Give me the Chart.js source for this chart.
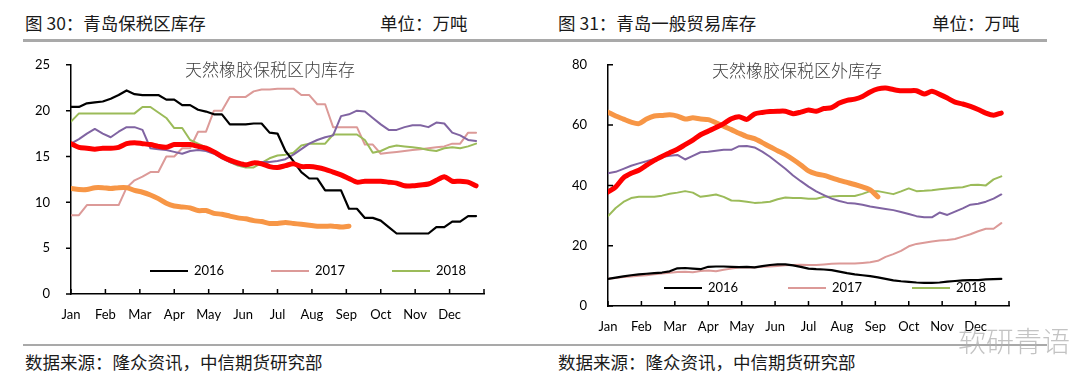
<!DOCTYPE html>
<html>
<head>
<meta charset="utf-8">
<script src="https://cdn.jsdelivr.net/npm/chart.js@4.4.0/dist/chart.umd.min.js"></script>
<style>
  html, body { margin: 0; padding: 0; background: #fff; }
  body { width: 1080px; height: 382px; position: relative; overflow: hidden;
         font-family: "Noto Sans CJK SC", sans-serif; }
  .t { position: absolute; font-size: 17.5px; color: #1a1a1a; white-space: nowrap; line-height: 1; }
  .note { position: absolute; font-size: 17px; color: #3c3c3c; white-space: nowrap; line-height: 1; font-weight: 300; }
  .rule { position: absolute; background: #a9a9a9; }
  .box { position: absolute; }
  .mark { position: absolute; font-size: 28px; color: rgba(175,175,175,0.75); white-space: nowrap; line-height: 1; font-weight: 300; }
</style>
</head>
<body>

<div class="t" style="left:25px;top:14px;">图 30：青岛保税区库存</div>
<div class="t" style="left:380px;top:14px;">单位：万吨</div>
<div class="t" style="left:558px;top:14px;">图 31：青岛一般贸易库存</div>
<div class="t" style="left:932px;top:14px;">单位：万吨</div>
<div class="rule" style="left:23px;top:39px;width:1024px;height:3px;"></div>

<div class="box" style="left:0;top:44px;width:520px;height:300px;"><canvas id="bonded"></canvas></div>
<div class="box" style="left:540px;top:44px;width:520px;height:300px;"><canvas id="trade"></canvas></div>

<div class="note" style="left:185px;top:60px;">天然橡胶保税区内库存</div>
<div class="note" style="left:712px;top:61px;">天然橡胶保税区外库存</div>

<div class="rule" style="left:23px;top:344px;width:1024px;height:2px;"></div>
<div class="t" style="left:25px;top:353px;">数据来源：隆众资讯，中信期货研究部</div>
<div class="t" style="left:558px;top:353px;">数据来源：隆众资讯，中信期货研究部</div>
<div class="mark" style="left:958px;top:326px;">软研青语</div>

<script>
// ========================
// DATA (weekly, 52 points per year)
// ========================

const monthLabels = ["Jan", "Feb", "Mar", "Apr", "May", "Jun", "Jul", "Aug", "Sep", "Oct", "Nov", "Dec", ""];
const legendYears = ["2016", "2017", "2018"];

// 青岛保税区库存 (万吨)
const bondedRed = [16.4, 16.0, 15.9, 15.8, 15.9, 15.9, 16.0, 16.4, 16.5, 16.4, 16.3, 16.1, 16.0, 16.3, 16.3, 16.3,
  16.1, 15.9, 15.5, 15.0, 14.6, 14.3, 14.1, 14.3, 14.2, 13.9, 13.8, 14.0, 14.2, 13.9, 13.9, 13.8, 13.6, 13.3,
  13.0, 12.6, 12.2, 12.3, 12.3, 12.3, 12.2, 12.1, 11.8, 11.8, 11.9, 12.0, 12.4, 12.8, 12.3, 12.3, 12.2, 11.8];
const bondedOrange = [11.5, 11.4, 11.4, 11.6, 11.6, 11.5, 11.6, 11.6, 11.3, 11.1, 10.8, 10.4, 9.9, 9.6, 9.5, 9.4,
  9.1, 9.1, 8.8, 8.7, 8.5, 8.3, 8.2, 8.0, 7.9, 7.7, 7.7, 7.8, 7.7, 7.6, 7.5, 7.4, 7.4, 7.4, 7.3, 7.4];
const bondedBlack = [20.4, 20.4, 20.8, 20.9, 21.0, 21.3, 21.7, 22.2, 21.8, 21.7, 21.7, 21.7, 21.2, 21.2, 20.6, 20.6,
  20.1, 19.9, 19.6, 19.6, 18.5, 18.5, 18.5, 18.6, 18.6, 17.6, 17.5, 15.6, 14.5, 13.3, 12.6, 12.6, 11.3, 11.3,
  11.3, 9.3, 9.3, 8.3, 8.3, 8.0, 7.3, 6.6, 6.6, 6.6, 6.6, 6.6, 7.3, 7.3, 7.9, 7.9, 8.5, 8.5];
const bondedPurple = [16.4, 16.9, 17.5, 18.0, 17.5, 17.1, 17.7, 18.2, 18.2, 17.9, 15.9, 15.8, 15.7, 15.5, 15.3, 15.6,
  15.7, 15.6, 15.3, 14.8, 14.4, 14.1, 13.9, 14.2, 14.4, 14.4, 14.5, 14.7, 15.2, 15.8, 16.4, 16.8, 17.1, 17.3,
  19.4, 19.6, 20.0, 19.9, 19.2, 18.5, 17.9, 17.9, 18.2, 18.4, 18.4, 18.2, 18.7, 18.6, 17.6, 17.3, 16.8, 16.7];
const bondedGreen = [18.8, 19.7, 19.7, 19.7, 19.7, 19.7, 19.7, 19.7, 19.7, 20.4, 20.4, 19.8, 19.2, 18.1, 18.1, 16.8,
  16.4, 16.0, 15.5, 15.0, 14.4, 14.0, 13.8, 13.8, 14.3, 14.8, 15.1, 15.2, 15.4, 16.2, 16.4, 16.4, 16.4, 17.4,
  17.4, 17.4, 17.4, 16.8, 15.4, 15.6, 16.0, 16.2, 16.1, 16.0, 15.9, 15.7, 15.6, 15.9, 16.0, 15.9, 16.1, 16.4];
const bondedPink = [8.6, 8.6, 9.7, 9.7, 9.7, 9.7, 9.7, 11.6, 12.4, 12.8, 13.3, 13.3, 15.0, 15.0, 15.9, 15.9,
  17.7, 17.7, 20.0, 20.0, 21.5, 21.5, 21.5, 22.1, 22.3, 22.3, 22.4, 22.4, 22.4, 21.7, 21.7, 20.7, 20.7, 18.2,
  18.2, 18.2, 18.2, 16.3, 16.3, 15.3, 15.4, 15.5, 15.6, 15.7, 15.8, 15.9, 16.0, 16.1, 16.4, 16.4, 17.6, 17.6];

// 青岛一般贸易库存 (万吨)
const tradeRed = [37.8, 39.5, 42.5, 44.0, 45.0, 46.7, 48.3, 49.6, 50.8, 52.0, 53.5, 55.0, 56.8, 58.0, 59.2, 60.5,
  62.1, 62.8, 61.9, 63.7, 64.2, 64.5, 64.6, 64.6, 63.8, 64.3, 65.0, 64.6, 65.5, 65.8, 67.3, 68.2, 68.6, 69.5,
  71.0, 72.0, 72.3, 71.8, 71.4, 71.4, 71.4, 70.3, 71.2, 70.2, 69.0, 67.6, 67.0, 66.2, 65.2, 64.0, 63.3, 64.0];
const tradeOrange = [64.3, 63.0, 62.0, 61.0, 60.5, 62.0, 63.0, 63.2, 63.4, 63.0, 62.0, 62.4, 62.0, 61.8, 60.8, 59.6,
  58.5, 57.3, 56.2, 55.5, 54.2, 52.8, 51.5, 50.2, 48.6, 46.8, 44.8, 43.8, 43.3, 42.5, 41.7, 41.0, 40.3, 39.5,
  38.5, 36.2];
const tradeBlack = [9.0, 9.4, 9.8, 10.2, 10.5, 10.7, 10.9, 11.1, 11.5, 12.5, 12.6, 12.4, 12.2, 13.0, 13.1, 13.1,
  13.0, 12.9, 13.0, 12.8, 13.2, 13.6, 13.8, 13.8, 13.5, 13.0, 12.4, 12.2, 12.1, 11.9, 11.4, 10.9, 10.5, 10.2,
  9.9, 9.5, 9.0, 8.5, 8.2, 8.0, 7.8, 7.7, 7.7, 7.8, 8.1, 8.3, 8.5, 8.6, 8.6, 8.8, 8.9, 9.0];
const tradePurple = [44.0, 44.5, 45.5, 46.5, 47.3, 48.0, 48.8, 49.4, 49.8, 50.1, 48.6, 49.8, 51.0, 51.2, 51.5, 51.8,
  51.8, 53.0, 53.1, 52.6, 51.2, 49.5, 47.5, 45.5, 43.3, 41.4, 39.6, 38.0, 36.8, 35.6, 34.8, 34.2, 34.0, 33.6,
  33.0, 32.6, 32.2, 31.8, 31.2, 30.5, 29.8, 29.4, 29.4, 31.0, 30.2, 31.3, 32.4, 33.6, 33.9, 34.6, 35.6, 37.0];
const tradeGreen = [29.8, 32.5, 34.5, 35.8, 36.2, 36.2, 36.2, 36.6, 37.2, 37.6, 38.1, 37.6, 36.2, 36.6, 37.0, 36.2,
  35.0, 34.9, 34.6, 34.2, 34.3, 34.6, 35.4, 36.0, 35.8, 35.8, 35.6, 35.6, 36.2, 36.3, 36.5, 36.5, 36.5, 37.2,
  38.1, 38.1, 37.6, 37.1, 38.0, 39.0, 38.1, 38.2, 38.4, 38.7, 39.0, 39.2, 39.4, 40.1, 40.2, 40.0, 42.0, 43.0];
const tradePink = [9.0, 9.3, 9.6, 9.8, 10.0, 10.2, 10.5, 10.8, 11.0, 11.3, 11.4, 11.2, 11.6, 11.8, 11.5, 12.0,
  12.4, 12.8, 12.8, 12.8, 13.0, 13.1, 13.3, 13.5, 13.6, 13.7, 13.6, 13.6, 13.8, 14.0, 14.1, 14.1, 14.1, 14.3,
  14.5, 15.0, 16.3, 17.2, 18.3, 19.8, 20.6, 21.0, 21.4, 21.7, 21.9, 22.2, 23.0, 23.8, 24.8, 25.6, 25.6, 27.5];

// ========================
// CHART HELPERS
// ========================

const WEEKS_PER_YEAR = 52;
const FONT = "Lato, 'Liberation Sans', sans-serif";

function toPoints(values) {
  return values.map((v, i) => ({ x: i, y: v }));
}

function line(label, values, color, width) {
  return {
    label,
    data: toPoints(values),
    borderColor: color,
    backgroundColor: color,
    borderWidth: width,
    pointRadius: 0,
    tension: width > 3 ? 0.25 : 0,
    borderJoinStyle: 'round',
    borderCapStyle: 'round',
    fill: false
  };
}

// small tick marks on both axes (x marks point into the plot)
const axisTicks = {
  id: 'axisTicks',
  afterDraw(chart, args, opts) {
    const { ctx } = chart;
    const xs = chart.scales.x, ys = chart.scales.y;
    ctx.save();
    ctx.strokeStyle = '#000';
    ctx.lineWidth = 1.5;
    ctx.beginPath();
    xs.ticks.forEach(t => {
      const px = xs.getPixelForValue(t.value);
      ctx.moveTo(px, xs.top);
      ctx.lineTo(px, xs.top - 5);
    });
    ys.ticks.forEach(t => {
      const py = ys.getPixelForValue(t.value);
      ctx.moveTo(ys.right, py);
      ctx.lineTo(ys.right + opts.yDir * 5, py);
    });
    ctx.stroke();
    ctx.restore();
  }
};

// legend drawn inside the plot, only for the listed years
const lineLegend = {
  id: 'lineLegend',
  afterDraw(chart, args, opts) {
    const { ctx, chartArea } = chart;
    const y = chartArea.bottom - opts.dy;
    ctx.save();
    ctx.font = '13px ' + FONT;
    ctx.textBaseline = 'middle';
    opts.items.forEach((label, i) => {
      const ds = chart.data.datasets.find(d => d.label === label);
      const x0 = chartArea.left + opts.dx + i * opts.step;
      ctx.strokeStyle = ds.borderColor;
      ctx.lineWidth = ds.borderWidth;
      ctx.beginPath();
      ctx.moveTo(x0, y);
      ctx.lineTo(x0 + 38, y);
      ctx.stroke();
      ctx.fillStyle = '#000';
      ctx.fillText(label, x0 + 44, y);
    });
    ctx.restore();
  }
};

function makeChart(id, datasets, yMax, yStep, cfg) {
  return new Chart(document.getElementById(id), {
    type: 'line',
    data: { datasets },
    options: {
      responsive: true,
      maintainAspectRatio: false,
      animation: false,
      layout: { padding: cfg.padding },
      plugins: {
        legend: { display: false },
        tooltip: { enabled: false },
        axisTicks: { yDir: cfg.yDir },
        lineLegend: cfg.legend
      },
      scales: {
        x: {
          type: 'linear',
          min: 0,
          max: WEEKS_PER_YEAR,
          afterBuildTicks: scale => {
            scale.ticks = monthLabels.map((m, i) => ({ value: i * WEEKS_PER_YEAR / 12 }));
          },
          afterFit: scale => { scale.height = 34; },
          grid: { display: false },
          border: { display: true, color: '#000', width: 1.5 },
          ticks: {
            autoSkip: false,
            maxRotation: 0,
            padding: 5,
            color: '#000',
            font: { family: FONT, size: 13 },
            callback: (v, i) => monthLabels[i]
          }
        },
        y: {
          min: 0,
          max: yMax,
          afterFit: scale => { scale.width = cfg.yWidth; },
          grid: { display: false },
          border: { display: true, color: '#000', width: 1.5 },
          ticks: {
            stepSize: yStep,
            padding: 13,
            color: '#000',
            font: { family: FONT, size: 13 }
          }
        }
      }
    },
    plugins: [axisTicks, lineLegend]
  });
}

// ========================
// INITIALIZATION
// ========================

makeChart('bonded', [
  line('2014', bondedRed, '#ff0000', 5),
  line('2019', bondedOrange, '#f79646', 5),
  line('2016', bondedBlack, '#000000', 2.2),
  line('2015', bondedPurple, '#8064a2', 2),
  line('2018', bondedGreen, '#9bbb59', 2),
  line('2017', bondedPink, '#dc9a98', 2)
], 25, 5, {
  padding: { left: 0, top: 11, right: 36, bottom: 16 },
  yWidth: 71,
  yDir: -1,
  legend: { items: legendYears, dx: 79, dy: 23, step: 121 }
});

makeChart('trade', [
  line('2014', tradeRed, '#ff0000', 5),
  line('2019', tradeOrange, '#f79646', 5),
  line('2016', tradeBlack, '#000000', 2.2),
  line('2015', tradePurple, '#8064a2', 2),
  line('2018', tradeGreen, '#9bbb59', 2),
  line('2017', tradePink, '#dc9a98', 2)
], 80, 20, {
  padding: { left: 0, top: 12, right: 51, bottom: 4 },
  yWidth: 68,
  yDir: 1,
  legend: { items: legendYears, dx: 56, dy: 18, step: 124 }
});
</script>
</body>
</html>
